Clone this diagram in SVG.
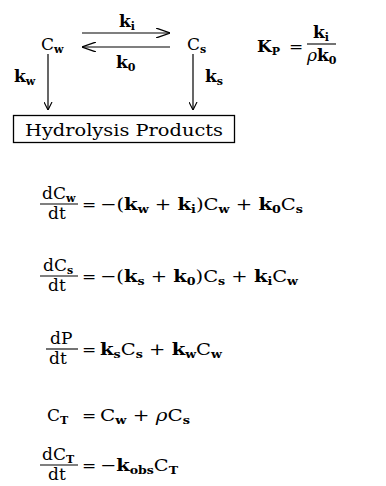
<svg xmlns="http://www.w3.org/2000/svg" width="386" height="486" viewBox="0 0 386 486">
<defs>
<marker id="ah" viewBox="0 0 10 10" refX="10" refY="5" markerWidth="8" markerHeight="9" markerUnits="userSpaceOnUse" orient="auto">
<path d="M0,0 L10,5 L0,10" fill="none" stroke="#000" stroke-width="1.4"/>
</marker>
<marker id="ahs" viewBox="0 0 14 10" refX="14" refY="5" markerWidth="14" markerHeight="10" markerUnits="userSpaceOnUse" orient="auto">
<path d="M0,0 L14,5 L0,10" fill="none" stroke="#000" stroke-width="1.3"/>
</marker>
</defs>
<style>
text { font-family: "DejaVu Serif", "Liberation Serif", serif; font-size: 17px; fill: #000; }
.b { font-weight: bold; }
.sb { font-size: 11px; font-weight: bold; }
.g { font-style: italic; }
line.c { stroke: #000; stroke-width: 1.2; fill: none; }
line.f { stroke: #000; stroke-width: 1.1; }
</style>
<rect width="386" height="486" fill="#fff"/>

<g id="connectors">
<line class="c" x1="82" y1="33" x2="170" y2="33" marker-end="url(#ahs)"/>
<line class="c" x1="170" y1="47" x2="82" y2="47" marker-end="url(#ahs)"/>
<line class="c" x1="48" y1="54" x2="48" y2="110" marker-end="url(#ah)"/>
<line class="c" x1="193" y1="54" x2="193" y2="110" marker-end="url(#ah)"/>
</g>

<g id="label-ki"><text x="119" y="27" class="b">k<tspan class="sb" dy="3">i</tspan></text></g>
<g id="label-k0"><text x="116" y="68" class="b">k<tspan class="sb" dy="3">0</tspan></text></g>
<g id="label-kw"><text x="14" y="82" class="b">k<tspan class="sb" dy="3">w</tspan></text></g>
<g id="label-ks"><text x="205" y="82" class="b">k<tspan class="sb" dy="3">s</tspan></text></g>

<g id="node-Cw"><text x="41" y="50">C<tspan class="sb" dy="3">w</tspan></text></g>
<g id="node-Cs"><text x="187" y="50">C<tspan class="sb" dy="3">s</tspan></text></g>

<g id="node-products">
<rect x="13.5" y="115.5" width="221" height="27" fill="none" stroke="#000" stroke-width="1.3"/>
<text x="25" y="136" font-size="18" textLength="198" lengthAdjust="spacingAndGlyphs">Hydrolysis Products</text>
</g>

<g id="eq-Kp">
<text x="257" y="52" class="b">K<tspan class="sb" dy="3">P</tspan></text>
<text x="289" y="52">=</text>
<line class="f" x1="307" y1="44" x2="336" y2="44"/>
<text x="313" y="38" class="b">k<tspan class="sb" dy="3">i</tspan></text>
<text x="307" y="61"><tspan class="g">ρ</tspan><tspan class="b">k</tspan><tspan class="sb" dy="3">0</tspan></text>
</g>

<g id="eq1">
<text x="42" y="199">dC<tspan class="sb" dy="3">w</tspan></text>
<line class="f" x1="40" y1="204" x2="78" y2="204"/>
<text x="48" y="219">dt</text>
<text x="82" y="210">=</text>
<text x="100" y="210" textLength="203" lengthAdjust="spacingAndGlyphs">−(<tspan class="b">k</tspan><tspan class="sb" dy="3">w</tspan><tspan dy="-3"> + </tspan><tspan class="b">k</tspan><tspan class="sb" dy="3">i</tspan><tspan dy="-3">)C</tspan><tspan class="sb" dy="3">w</tspan><tspan dy="-3"> + </tspan><tspan class="b">k</tspan><tspan class="sb" dy="3">0</tspan><tspan dy="-3">C</tspan><tspan class="sb" dy="3">s</tspan></text>
</g>

<g id="eq2">
<text x="43" y="271">dC<tspan class="sb" dy="3">s</tspan></text>
<line class="f" x1="40" y1="276" x2="78" y2="276"/>
<text x="48" y="291">dt</text>
<text x="82" y="282">=</text>
<text x="100" y="282" textLength="198" lengthAdjust="spacingAndGlyphs">−(<tspan class="b">k</tspan><tspan class="sb" dy="3">s</tspan><tspan dy="-3"> + </tspan><tspan class="b">k</tspan><tspan class="sb" dy="3">0</tspan><tspan dy="-3">)C</tspan><tspan class="sb" dy="3">s</tspan><tspan dy="-3"> + </tspan><tspan class="b">k</tspan><tspan class="sb" dy="3">i</tspan><tspan dy="-3">C</tspan><tspan class="sb" dy="3">w</tspan></text>
</g>

<g id="eq3">
<text x="50" y="344">dP</text>
<line class="f" x1="46" y1="349" x2="78" y2="349"/>
<text x="49" y="364">dt</text>
<text x="82" y="355">=</text>
<text x="100" y="355" textLength="122" lengthAdjust="spacingAndGlyphs"><tspan class="b">k</tspan><tspan class="sb" dy="3">s</tspan><tspan dy="-3">C</tspan><tspan class="sb" dy="3">s</tspan><tspan dy="-3"> + </tspan><tspan class="b">k</tspan><tspan class="sb" dy="3">w</tspan><tspan dy="-3">C</tspan><tspan class="sb" dy="3">w</tspan></text>
</g>

<g id="eq4">
<text x="47" y="421">C<tspan class="sb" dy="3">T</tspan></text>
<text x="82" y="421">=</text>
<text x="100" y="421" textLength="90" lengthAdjust="spacingAndGlyphs">C<tspan class="sb" dy="3">w</tspan><tspan dy="-3"> + </tspan><tspan class="g">ρ</tspan><tspan>C</tspan><tspan class="sb" dy="3">s</tspan></text>
</g>

<g id="eq5">
<text x="42" y="460">dC<tspan class="sb" dy="3">T</tspan></text>
<line class="f" x1="40" y1="465" x2="78" y2="465"/>
<text x="48" y="480">dt</text>
<text x="82" y="471">=</text>
<text x="100" y="471" textLength="78" lengthAdjust="spacingAndGlyphs">−<tspan class="b">k</tspan><tspan class="sb" dy="3">obs</tspan><tspan dy="-3">C</tspan><tspan class="sb" dy="3">T</tspan></text>
</g>
</svg>
